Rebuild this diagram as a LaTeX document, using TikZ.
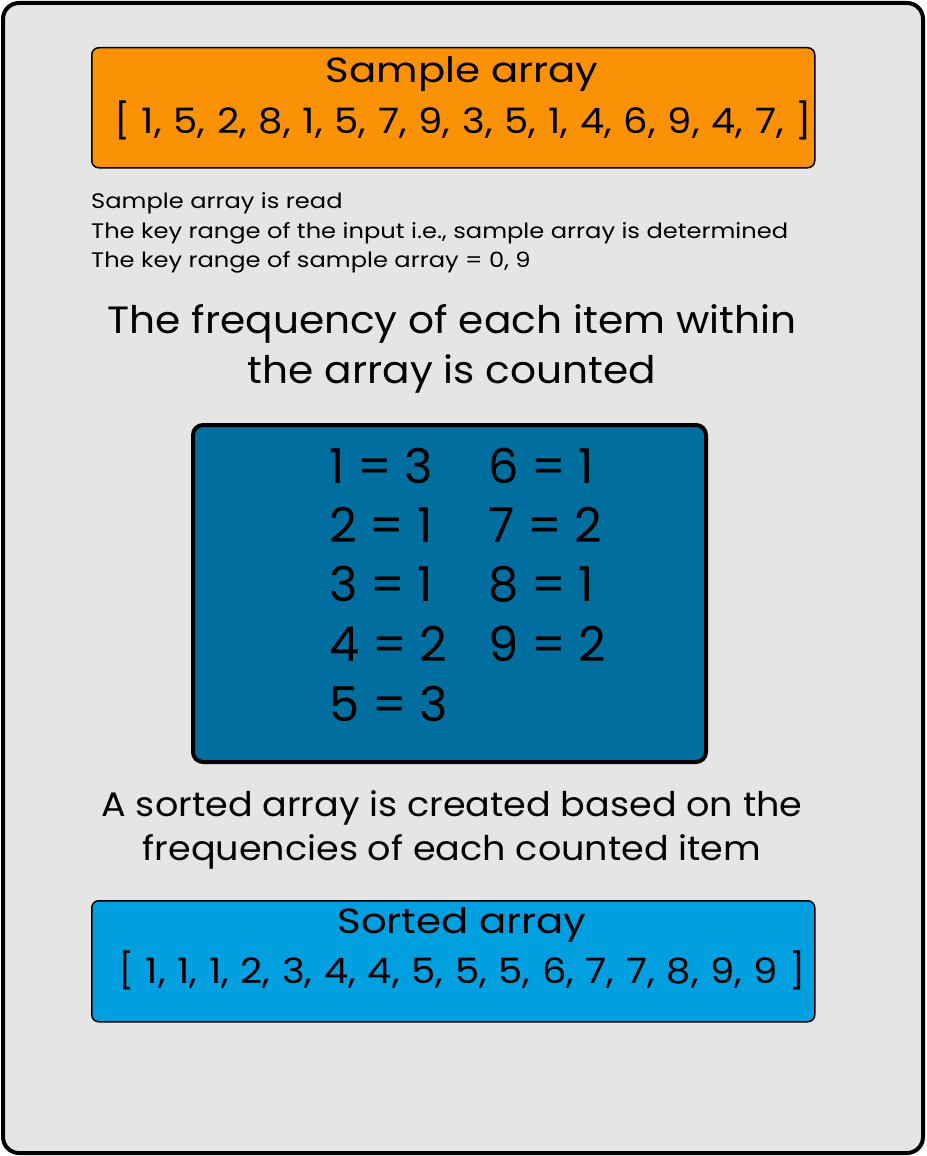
\documentclass[tikz,border=0pt]{standalone}
\usepackage{fontspec}
\setmainfont{Poppins}
\definecolor{bgc}{RGB}{229,229,229}
\definecolor{orangec}{RGB}{251,145,5}
\definecolor{darkbluec}{RGB}{0,111,159}
\definecolor{lightbluec}{RGB}{0,159,224}
\begin{document}
\begin{tikzpicture}[x=1pt,y=-1pt,
  panel/.style={draw=black, line width=1.5pt, rounded corners=7pt, anchor=north west, inner sep=0pt},
  txt/.style={inner sep=0pt, text=black},
  big/.style={txt, anchor=base, font=\fontsize{35}{40}\selectfont\addfontfeature{FakeStretch=1.15}},
  arr/.style={txt, anchor=base, font=\fontsize{35}{40}\selectfont\addfontfeature{FakeStretch=1.1}},
  small/.style={txt, font=\fontsize{21}{24}\selectfont\addfontfeature{FakeStretch=1.15}, anchor=base west},
  head/.style={txt, font=\fontsize{38}{44}\selectfont\addfontfeature{FakeStretch=1.07}, anchor=base},
  head2/.style={txt, font=\fontsize{34}{40}\selectfont\addfontfeature{FakeStretch=1.075}, anchor=base},
  cell/.style={txt, font=\fontsize{48}{56}\selectfont, anchor=base west}]
\useasboundingbox (0,0) rectangle (926,1156);
\draw[fill=bgc, draw=black, line width=4pt, rounded corners=16pt] (3,3) rectangle (923,1153);
% sample array box
\node[panel, fill=orangec, minimum width=723pt, minimum height=120pt] (sample) at (91,47) {};
\node[big] (sampletitle) at (462,82) {Sample array};
\node[arr] (samplearr) at (463,133) {\makebox[698pt][s]{[ 1, 5, 2, 8, 1, 5, 7, 9, 3, 5, 1, 4, 6, 9, 4, 7, ]}};
% description lines
\node[small] (l1) at (91,208) {Sample array is read};
\node[small] (l2) at (91,238) {The key range of the input i.e., sample array is determined};
\node[small] (l3) at (91,267) {The key range of sample array = 0, 9};
% heading
\node[head] (h1) at (452,333) {The frequency of each item within};
\node[head] (h2) at (452,383) {the array is counted};
% frequency box
\node[panel, fill=darkbluec, line width=4pt, rounded corners=10pt, minimum width=513pt, minimum height=337pt] (freq) at (191,423) {};
\node[cell] (c1) at (329,483) {1 = 3};
\node[cell] (c2) at (329,542) {2 = 1};
\node[cell] (c3) at (329,601) {3 = 1};
\node[cell] (c4) at (329,661) {4 = 2};
\node[cell] (c5) at (329,721) {5 = 3};
\node[cell] (c6) at (488,483) {6 = 1};
\node[cell] (c7) at (488,542) {7 = 2};
\node[cell] (c8) at (488,601) {8 = 1};
\node[cell] (c9) at (488,661) {9 = 2};
% sorted text
\node[head2] (s1) at (452,816) {A sorted array is created based on the};
\node[head2] (s2) at (452,860) {frequencies of each counted item};
% sorted box
\node[panel, fill=lightbluec, minimum width=723pt, minimum height=121pt] (sorted) at (91,900) {};
\node[big] (sortedtitle) at (462,933) {Sorted array};
\node[arr] (sortedarr) at (462,983) {\makebox[688pt][s]{[ 1, 1, 1, 2, 3, 4, 4, 5, 5, 5, 6, 7, 7, 8, 9, 9 ]}};
\end{tikzpicture}
\end{document}
